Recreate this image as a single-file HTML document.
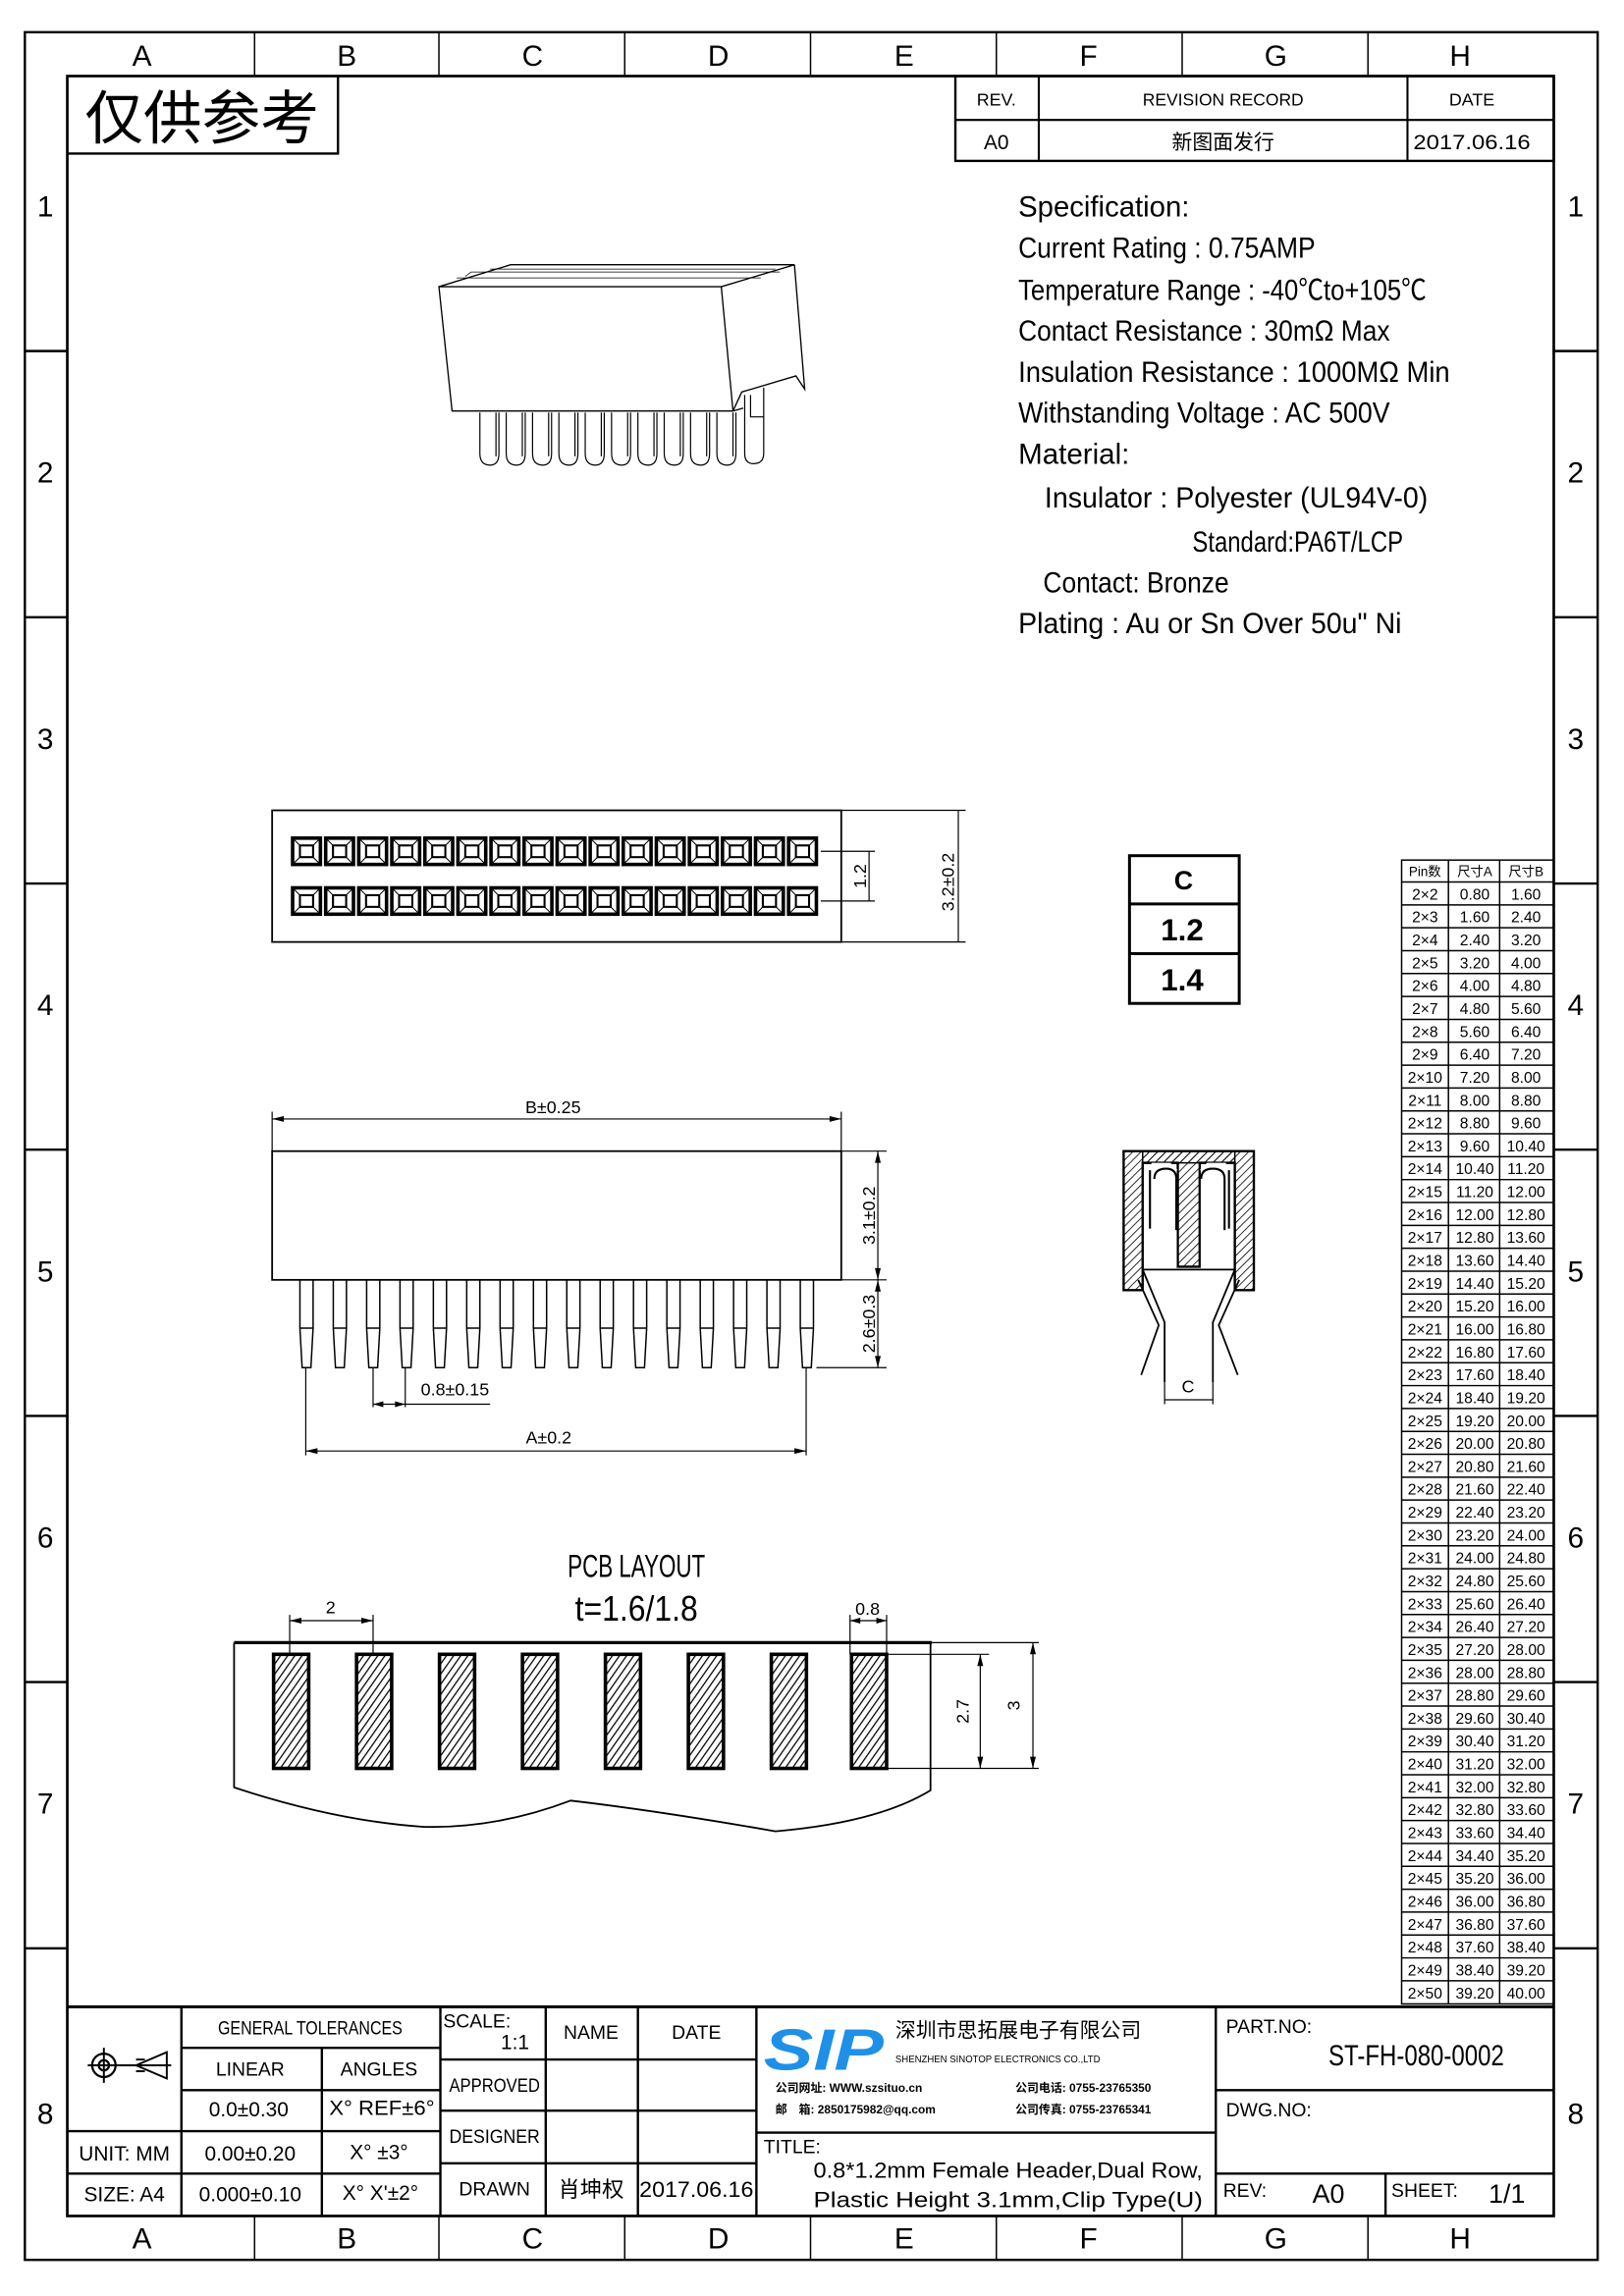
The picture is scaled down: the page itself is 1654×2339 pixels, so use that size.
<!DOCTYPE html>
<html><head><meta charset="utf-8"><style>
html,body{margin:0;padding:0;background:#fff}
svg{display:block}
text{font-family:"Liberation Sans Narrow","Liberation Sans","Noto Sans CJK SC",sans-serif;fill:#000}
.cj{font-family:"Liberation Sans","Noto Sans CJK SC",sans-serif}
</style></head><body>
<svg width="1654" height="2339" viewBox="0 0 1110 1569.7" preserveAspectRatio="none" xmlns="http://www.w3.org/2000/svg">
<defs>
<pattern id="h" width="4" height="4" patternUnits="userSpaceOnUse" patternTransform="rotate(35)"><line x1="0" y1="0" x2="0" y2="4" stroke="#000" stroke-width="1.7"/></pattern>
<pattern id="h2" width="4" height="4" patternUnits="userSpaceOnUse" patternTransform="rotate(45)"><line x1="0" y1="0" x2="0" y2="4" stroke="#000" stroke-width="1.1"/></pattern>
<g id="pad"><rect x="0" y="0" width="19" height="18" fill="none" stroke="#000" stroke-width="2.4"/><rect x="5" y="5" width="9" height="8" fill="none" stroke="#000" stroke-width="1.4"/><path d="M0 0L5 5M19 0L14 5M0 18L5 13M19 18L14 13" stroke="#000" stroke-width=".7"/></g>
<g id="pin" fill="none" stroke="#000" stroke-width="1"><path d="M0 0V33L1.5 60H7.5L9 33V0M0 33H9"/></g>
<g id="pcbpad"><rect x="0" y="0" width="24" height="78" fill="url(#h)" stroke="#000" stroke-width="2.4"/></g>
<g id="p3" fill="none" stroke="#000" stroke-width=".8"><path d="M0 0V28Q0 36 7 36Q13 36 13 28V0M11 0V30"/></g>
</defs>
<g fill="none" stroke="#000">
<rect x="17" y="22" width="1075" height="1523" stroke-width="1.6"/>
<rect x="46" y="52" width="1016" height="1463" stroke-width="1.8"/>
<path stroke-width="1" d="M174 22V52M300 22V52M427 22V52M554 22V52M681 22V52M808 22V52M935 22V52M174 1515V1545M300 1515V1545M427 1515V1545M554 1515V1545M681 1515V1545M808 1515V1545M935 1515V1545"/>
<path stroke-width="1.6" d="M17 240H46M17 422H46M17 604H46M17 786H46M17 968H46M17 1150H46M17 1332H46M1062 240H1092M1062 422H1092M1062 604H1092M1062 786H1092M1062 968H1092M1062 1150H1092M1062 1332H1092"/>
<path stroke-width="1.6" d="M46 105H231V52"/>
<rect x="653" y="52" width="409" height="58" stroke-width="1.6"/>
<path stroke-width="1.4" d="M653 82H1062M710 52V110M962 52V110"/>
<path stroke-width=".9" d="M300 196L309 281H501L493 196ZM300 196L349 181H543L493 196M543 181L550 266L544 257L507 268L501 281M501 281L508 279"/>
<path stroke-width=".5" d="M312 190H520M325 186H533M318 189l4-3h200M335 184h195"/>
<use href="#p3" x="328" y="282"/><use href="#p3" x="346" y="282"/><use href="#p3" x="364" y="282"/><use href="#p3" x="382" y="282"/><use href="#p3" x="400" y="282"/><use href="#p3" x="418" y="282"/><use href="#p3" x="436" y="282"/><use href="#p3" x="454" y="282"/><use href="#p3" x="472" y="282"/><use href="#p3" x="490" y="282"/>
<path stroke-width=".8" d="M509 270V310Q509 317 515 317Q522 317 522 310V265M513 270V285H522"/>
<rect x="186" y="554" width="389" height="90" stroke-width="1.2"/>
<path stroke-width=".8" d="M561 582H598M561 616H598M594 582V616M575 554H660M575 644H660M655 554V644"/>
</g>
<g>
<use href="#pad" x="200" y="573"/><use href="#pad" x="222.6" y="573"/><use href="#pad" x="245.2" y="573"/><use href="#pad" x="267.8" y="573"/><use href="#pad" x="290.4" y="573"/><use href="#pad" x="313" y="573"/><use href="#pad" x="335.6" y="573"/><use href="#pad" x="358.2" y="573"/><use href="#pad" x="380.8" y="573"/><use href="#pad" x="403.4" y="573"/><use href="#pad" x="426" y="573"/><use href="#pad" x="448.6" y="573"/><use href="#pad" x="471.2" y="573"/><use href="#pad" x="493.8" y="573"/><use href="#pad" x="516.4" y="573"/><use href="#pad" x="539" y="573"/>
<use href="#pad" x="200" y="607"/><use href="#pad" x="222.6" y="607"/><use href="#pad" x="245.2" y="607"/><use href="#pad" x="267.8" y="607"/><use href="#pad" x="290.4" y="607"/><use href="#pad" x="313" y="607"/><use href="#pad" x="335.6" y="607"/><use href="#pad" x="358.2" y="607"/><use href="#pad" x="380.8" y="607"/><use href="#pad" x="403.4" y="607"/><use href="#pad" x="426" y="607"/><use href="#pad" x="448.6" y="607"/><use href="#pad" x="471.2" y="607"/><use href="#pad" x="493.8" y="607"/><use href="#pad" x="516.4" y="607"/><use href="#pad" x="539" y="607"/>
</g>
<text transform="translate(592,599) rotate(-90)" font-size="12" text-anchor="middle">1.2</text>
<text transform="translate(652,603) rotate(-90)" font-size="12" text-anchor="middle">3.2±0.2</text>
<g fill="none" stroke="#000">
<rect x="186" y="787" width="389" height="88" stroke-width="1.2"/>
<path stroke-width=".8" d="M186 760V787M575 760V787M186 765H575M575 787H606M575 875H606M600 787V935M558 935H606M209 935V995M551 935V995M209 992H551M255 935V962M277 935V962M255 960H335"/>
<path fill="#000" stroke="none" d="M186 765l8-2v4zM575 765l-8-2v4zM600 787l-2 8h4zM600 875l-2-8h4zM600 875l-2 8h4zM600 935l-2-8h4zM209 992l8-2v4zM551 992l-8-2v4zM255 960l7-2v4zM277 960l-7-2v4z"/>
</g>
<g>
<use href="#pin" x="205" y="875"/><use href="#pin" x="227.8" y="875"/><use href="#pin" x="250.6" y="875"/><use href="#pin" x="273.4" y="875"/><use href="#pin" x="296.2" y="875"/><use href="#pin" x="319" y="875"/><use href="#pin" x="341.8" y="875"/><use href="#pin" x="364.6" y="875"/><use href="#pin" x="387.4" y="875"/><use href="#pin" x="410.2" y="875"/><use href="#pin" x="433" y="875"/><use href="#pin" x="455.8" y="875"/><use href="#pin" x="478.6" y="875"/><use href="#pin" x="501.4" y="875"/><use href="#pin" x="524.2" y="875"/><use href="#pin" x="547" y="875"/>
</g>
<text x="378" y="761" font-size="12" text-anchor="middle">B±0.25</text>
<text transform="translate(598,831) rotate(-90)" font-size="12" text-anchor="middle">3.1±0.2</text>
<text transform="translate(598,905) rotate(-90)" font-size="12" text-anchor="middle">2.6±0.3</text>
<text x="311" y="954" font-size="12" text-anchor="middle">0.8±0.15</text>
<text x="375" y="987" font-size="12" text-anchor="middle">A±0.2</text>
<g fill="none" stroke="#000" stroke-width="2"><rect x="772" y="585" width="75" height="101"/><path d="M772 618H847M772 652H847"/></g>
<text x="809" y="608" font-size="18" text-anchor="middle" font-family="Liberation Sans" font-weight="bold">C</text>
<text x="808" y="643" font-size="21" text-anchor="middle" font-family="Liberation Sans" font-weight="bold">1.2</text>
<text x="808" y="677" font-size="21" text-anchor="middle" font-family="Liberation Sans" font-weight="bold">1.4</text>
<g stroke="#000">
<path fill="url(#h2)" stroke-width="1.6" d="M768 787H857V882H844V795H820V866H805V795H781V882H768Z"/>
<path fill="url(#h2)" stroke-width="1" d="M781 787H844V795H781Z"/>
<path fill="#fff" stroke-width="1" d="M787 795H800L805 800V866H787ZM820 800L825 795H838V866H820Z" stroke="none"/>
<path fill="none" stroke-width="1.4" d="M786 800V840M789 806Q789 799 797 799Q804 799 804 806V841M821 806Q821 799 829 799Q837 799 837 806V841M840 800V840M805 800V866M820 800V866"/>
<path fill="none" stroke-width="1.2" d="M781 868H844M781 868L796 904V945M844 868L829 904V945M778 875L792 906L780 940M847 875L833 906L846 940"/>
<path fill="none" stroke-width=".8" d="M796 945V960M829 945V960M796 957H829"/>
</g>
<text x="812" y="952" font-size="12" text-anchor="middle">C</text>
<g fill="none" stroke="#000" stroke-width="1">
<rect x="958" y="588" width="104" height="782"/>
<path d="M990 588V1370M1025 588V1370"/>
<path d="M958 603H1062M958 618.65H1062M958 634.3H1062M958 649.95H1062M958 665.6H1062M958 681.25H1062M958 696.9H1062M958 712.55H1062M958 728.2H1062M958 743.85H1062M958 759.5H1062M958 775.15H1062M958 790.8H1062M958 806.45H1062M958 822.1H1062M958 837.75H1062M958 853.4H1062M958 869.05H1062M958 884.7H1062M958 900.35H1062M958 916H1062M958 931.65H1062M958 947.3H1062M958 962.95H1062M958 978.6H1062M958 994.25H1062M958 1009.9H1062M958 1025.55H1062M958 1041.2H1062M958 1056.85H1062M958 1072.5H1062M958 1088.15H1062M958 1103.8H1062M958 1119.45H1062M958 1135.1H1062M958 1150.75H1062M958 1166.4H1062M958 1182.05H1062M958 1197.7H1062M958 1213.35H1062M958 1229H1062M958 1244.65H1062M958 1260.3H1062M958 1275.95H1062M958 1291.6H1062M958 1307.25H1062M958 1322.9H1062M958 1338.55H1062M958 1354.2H1062"/>
</g>
<g font-size="10.5" text-anchor="middle">
<text x="974" y="599" font-size="9" class="cj">Pin数</text><text x="1008" y="599" font-size="9" class="cj">尺寸A</text><text x="1043" y="599" font-size="9" class="cj">尺寸B</text>
<g><text x="974" y="615">2×2</text><text x="1008" y="615">0.80</text><text x="1043" y="615">1.60</text></g>
<g transform="translate(0,15.65)"><text x="974" y="615">2×3</text><text x="1008" y="615">1.60</text><text x="1043" y="615">2.40</text></g>
<g transform="translate(0,31.3)"><text x="974" y="615">2×4</text><text x="1008" y="615">2.40</text><text x="1043" y="615">3.20</text></g>
<g transform="translate(0,46.95)"><text x="974" y="615">2×5</text><text x="1008" y="615">3.20</text><text x="1043" y="615">4.00</text></g>
<g transform="translate(0,62.6)"><text x="974" y="615">2×6</text><text x="1008" y="615">4.00</text><text x="1043" y="615">4.80</text></g>
<g transform="translate(0,78.25)"><text x="974" y="615">2×7</text><text x="1008" y="615">4.80</text><text x="1043" y="615">5.60</text></g>
<g transform="translate(0,93.9)"><text x="974" y="615">2×8</text><text x="1008" y="615">5.60</text><text x="1043" y="615">6.40</text></g>
<g transform="translate(0,109.55)"><text x="974" y="615">2×9</text><text x="1008" y="615">6.40</text><text x="1043" y="615">7.20</text></g>
<g transform="translate(0,125.2)"><text x="974" y="615">2×10</text><text x="1008" y="615">7.20</text><text x="1043" y="615">8.00</text></g>
<g transform="translate(0,140.85)"><text x="974" y="615">2×11</text><text x="1008" y="615">8.00</text><text x="1043" y="615">8.80</text></g>
<g transform="translate(0,156.5)"><text x="974" y="615">2×12</text><text x="1008" y="615">8.80</text><text x="1043" y="615">9.60</text></g>
<g transform="translate(0,172.15)"><text x="974" y="615">2×13</text><text x="1008" y="615">9.60</text><text x="1043" y="615">10.40</text></g>
<g transform="translate(0,187.8)"><text x="974" y="615">2×14</text><text x="1008" y="615">10.40</text><text x="1043" y="615">11.20</text></g>
<g transform="translate(0,203.45)"><text x="974" y="615">2×15</text><text x="1008" y="615">11.20</text><text x="1043" y="615">12.00</text></g>
<g transform="translate(0,219.1)"><text x="974" y="615">2×16</text><text x="1008" y="615">12.00</text><text x="1043" y="615">12.80</text></g>
<g transform="translate(0,234.75)"><text x="974" y="615">2×17</text><text x="1008" y="615">12.80</text><text x="1043" y="615">13.60</text></g>
<g transform="translate(0,250.4)"><text x="974" y="615">2×18</text><text x="1008" y="615">13.60</text><text x="1043" y="615">14.40</text></g>
<g transform="translate(0,266.05)"><text x="974" y="615">2×19</text><text x="1008" y="615">14.40</text><text x="1043" y="615">15.20</text></g>
<g transform="translate(0,281.7)"><text x="974" y="615">2×20</text><text x="1008" y="615">15.20</text><text x="1043" y="615">16.00</text></g>
<g transform="translate(0,297.35)"><text x="974" y="615">2×21</text><text x="1008" y="615">16.00</text><text x="1043" y="615">16.80</text></g>
<g transform="translate(0,313)"><text x="974" y="615">2×22</text><text x="1008" y="615">16.80</text><text x="1043" y="615">17.60</text></g>
<g transform="translate(0,328.65)"><text x="974" y="615">2×23</text><text x="1008" y="615">17.60</text><text x="1043" y="615">18.40</text></g>
<g transform="translate(0,344.3)"><text x="974" y="615">2×24</text><text x="1008" y="615">18.40</text><text x="1043" y="615">19.20</text></g>
<g transform="translate(0,359.95)"><text x="974" y="615">2×25</text><text x="1008" y="615">19.20</text><text x="1043" y="615">20.00</text></g>
<g transform="translate(0,375.6)"><text x="974" y="615">2×26</text><text x="1008" y="615">20.00</text><text x="1043" y="615">20.80</text></g>
<g transform="translate(0,391.25)"><text x="974" y="615">2×27</text><text x="1008" y="615">20.80</text><text x="1043" y="615">21.60</text></g>
<g transform="translate(0,406.9)"><text x="974" y="615">2×28</text><text x="1008" y="615">21.60</text><text x="1043" y="615">22.40</text></g>
<g transform="translate(0,422.55)"><text x="974" y="615">2×29</text><text x="1008" y="615">22.40</text><text x="1043" y="615">23.20</text></g>
<g transform="translate(0,438.2)"><text x="974" y="615">2×30</text><text x="1008" y="615">23.20</text><text x="1043" y="615">24.00</text></g>
<g transform="translate(0,453.85)"><text x="974" y="615">2×31</text><text x="1008" y="615">24.00</text><text x="1043" y="615">24.80</text></g>
<g transform="translate(0,469.5)"><text x="974" y="615">2×32</text><text x="1008" y="615">24.80</text><text x="1043" y="615">25.60</text></g>
<g transform="translate(0,485.15)"><text x="974" y="615">2×33</text><text x="1008" y="615">25.60</text><text x="1043" y="615">26.40</text></g>
<g transform="translate(0,500.8)"><text x="974" y="615">2×34</text><text x="1008" y="615">26.40</text><text x="1043" y="615">27.20</text></g>
<g transform="translate(0,516.45)"><text x="974" y="615">2×35</text><text x="1008" y="615">27.20</text><text x="1043" y="615">28.00</text></g>
<g transform="translate(0,532.1)"><text x="974" y="615">2×36</text><text x="1008" y="615">28.00</text><text x="1043" y="615">28.80</text></g>
<g transform="translate(0,547.75)"><text x="974" y="615">2×37</text><text x="1008" y="615">28.80</text><text x="1043" y="615">29.60</text></g>
<g transform="translate(0,563.4)"><text x="974" y="615">2×38</text><text x="1008" y="615">29.60</text><text x="1043" y="615">30.40</text></g>
<g transform="translate(0,579.05)"><text x="974" y="615">2×39</text><text x="1008" y="615">30.40</text><text x="1043" y="615">31.20</text></g>
<g transform="translate(0,594.7)"><text x="974" y="615">2×40</text><text x="1008" y="615">31.20</text><text x="1043" y="615">32.00</text></g>
<g transform="translate(0,610.35)"><text x="974" y="615">2×41</text><text x="1008" y="615">32.00</text><text x="1043" y="615">32.80</text></g>
<g transform="translate(0,626)"><text x="974" y="615">2×42</text><text x="1008" y="615">32.80</text><text x="1043" y="615">33.60</text></g>
<g transform="translate(0,641.65)"><text x="974" y="615">2×43</text><text x="1008" y="615">33.60</text><text x="1043" y="615">34.40</text></g>
<g transform="translate(0,657.3)"><text x="974" y="615">2×44</text><text x="1008" y="615">34.40</text><text x="1043" y="615">35.20</text></g>
<g transform="translate(0,672.95)"><text x="974" y="615">2×45</text><text x="1008" y="615">35.20</text><text x="1043" y="615">36.00</text></g>
<g transform="translate(0,688.6)"><text x="974" y="615">2×46</text><text x="1008" y="615">36.00</text><text x="1043" y="615">36.80</text></g>
<g transform="translate(0,704.25)"><text x="974" y="615">2×47</text><text x="1008" y="615">36.80</text><text x="1043" y="615">37.60</text></g>
<g transform="translate(0,719.9)"><text x="974" y="615">2×48</text><text x="1008" y="615">37.60</text><text x="1043" y="615">38.40</text></g>
<g transform="translate(0,735.55)"><text x="974" y="615">2×49</text><text x="1008" y="615">38.40</text><text x="1043" y="615">39.20</text></g>
<g transform="translate(0,751.2)"><text x="974" y="615">2×50</text><text x="1008" y="615">39.20</text><text x="1043" y="615">40.00</text></g>
</g>
<text x="435" y="1078" font-size="22" text-anchor="middle" textLength="94" lengthAdjust="spacingAndGlyphs">PCB LAYOUT</text>
<text x="435" y="1108" font-size="24" text-anchor="middle" textLength="84" lengthAdjust="spacingAndGlyphs">t=1.6/1.8</text>
<g fill="none" stroke="#000">
<path stroke-width="2.2" d="M160 1123H637"/>
<path stroke-width="1.2" d="M160 1123V1222Q230 1245 290 1249Q340 1250 390 1231Q450 1238 530 1252Q600 1246 636 1224V1123"/>
<path stroke-width=".8" d="M198 1104V1131M255 1104V1131M198 1108H255M581 1104V1131M606 1104V1131M581 1108H606M606 1131H676M606 1209H710M637 1123H710M670 1131V1209M706 1123V1209"/>
<path fill="#000" stroke="none" d="M198 1108l8-2v4zM255 1108l-8-2v4zM581 1108l7-2v4zM606 1108l-7-2v4zM670 1131l-2 8h4zM670 1209l-2-8h4zM706 1123l-2 8h4zM706 1209l-2-8h4z"/>
</g>
<use href="#pcbpad" x="187" y="1131"/><use href="#pcbpad" x="243.7" y="1131"/><use href="#pcbpad" x="300.4" y="1131"/><use href="#pcbpad" x="357.1" y="1131"/><use href="#pcbpad" x="413.8" y="1131"/><use href="#pcbpad" x="470.5" y="1131"/><use href="#pcbpad" x="527.2" y="1131"/><use href="#pcbpad" x="582" y="1131"/>
<text x="226" y="1103" font-size="12" text-anchor="middle">2</text>
<text x="593" y="1104" font-size="12" text-anchor="middle">0.8</text>
<text transform="translate(662,1170) rotate(-90)" font-size="12" text-anchor="middle">2.7</text>
<text transform="translate(697,1166) rotate(-90)" font-size="12" text-anchor="middle">3</text>
<g fill="none" stroke="#000">
<path stroke-width="2" d="M46 1372H1062"/>
<path stroke-width="1.6" d="M124 1372V1515M220 1400V1515M301 1372V1515M373 1372V1515M436 1372V1515M517 1372V1515M831 1372V1515M947 1486V1515"/>
<path stroke-width="1.6" d="M124 1400H301M124 1429H301M46 1457H301M46 1486H301M301 1408H517M301 1443H517M301 1479H517M517 1458H831M831 1429H1062M831 1486H1062"/>
<circle cx="71" cy="1412" r="8" stroke-width="1.5"/><circle cx="71" cy="1412" r="3.5" stroke-width="1.5"/>
<path stroke-width="1.3" d="M60 1412H117M71 1400V1424M93 1412L114 1403V1421ZM93 1408H99M93 1416H99"/>
</g>
<g font-size="20" text-anchor="middle">
<text x="97" y="45">A</text><text x="237" y="45">B</text><text x="364" y="45">C</text><text x="491" y="45">D</text><text x="618" y="45">E</text><text x="744" y="45">F</text><text x="872" y="45">G</text><text x="998" y="45">H</text>
<text x="97" y="1537">A</text><text x="237" y="1537">B</text><text x="364" y="1537">C</text><text x="491" y="1537">D</text><text x="618" y="1537">E</text><text x="744" y="1537">F</text><text x="872" y="1537">G</text><text x="998" y="1537">H</text>
<text x="31" y="148">1</text><text x="31" y="330">2</text><text x="31" y="512">3</text><text x="31" y="694">4</text><text x="31" y="876">5</text><text x="31" y="1058">6</text><text x="31" y="1240">7</text><text x="31" y="1452">8</text>
<text x="1077" y="148">1</text><text x="1077" y="330">2</text><text x="1077" y="512">3</text><text x="1077" y="694">4</text><text x="1077" y="876">5</text><text x="1077" y="1058">6</text><text x="1077" y="1240">7</text><text x="1077" y="1452">8</text>
</g>
<text x="138" y="95" font-size="40" text-anchor="middle" class="cj">仅供参考</text>
<g font-size="12" text-anchor="middle">
<text x="681" y="72">REV.</text><text x="836" y="72" textLength="110" lengthAdjust="spacingAndGlyphs">REVISION RECORD</text><text x="1006" y="72">DATE</text>
<text x="681" y="102" font-size="14">A0</text><text x="836" y="102" font-size="14" class="cj">新图面发行</text><text x="1006" y="102" font-size="14" textLength="80" lengthAdjust="spacingAndGlyphs">2017.06.16</text>
</g>
<g font-size="20">
<text x="696" y="148" textLength="117" lengthAdjust="spacingAndGlyphs">Specification:</text>
<text x="696" y="176" textLength="203" lengthAdjust="spacingAndGlyphs">Current Rating : 0.75AMP</text>
<text x="696" y="205" textLength="279" lengthAdjust="spacingAndGlyphs">Temperature Range : -40℃to+105℃</text>
<text x="696" y="233" textLength="254" lengthAdjust="spacingAndGlyphs">Contact Resistance : 30mΩ Max</text>
<text x="696" y="261" textLength="295" lengthAdjust="spacingAndGlyphs">Insulation Resistance : 1000MΩ Min</text>
<text x="696" y="289" textLength="254" lengthAdjust="spacingAndGlyphs">Withstanding Voltage : AC 500V</text>
<text x="696" y="317" textLength="76" lengthAdjust="spacingAndGlyphs">Material:</text>
<text x="714" y="347" textLength="262" lengthAdjust="spacingAndGlyphs">Insulator : Polyester (UL94V-0)</text>
<text x="815" y="377" textLength="144" lengthAdjust="spacingAndGlyphs">Standard:PA6T/LCP</text>
<text x="713" y="405" textLength="127" lengthAdjust="spacingAndGlyphs">Contact: Bronze</text>
<text x="696" y="433" textLength="262" lengthAdjust="spacingAndGlyphs">Plating : Au or Sn Over 50u" Ni</text>
</g>
<g font-size="13" text-anchor="middle">
<text x="212" y="1391" textLength="126" lengthAdjust="spacingAndGlyphs">GENERAL TOLERANCES</text>
<text x="171" y="1419">LINEAR</text><text x="259" y="1419">ANGLES</text>
<text x="170" y="1447" font-size="14">0.0±0.30</text><text x="261" y="1446" font-size="14" textLength="72" lengthAdjust="spacingAndGlyphs">X° REF±6°</text>
<text x="85" y="1477" font-size="14">UNIT: MM</text><text x="171" y="1477" font-size="14">0.00±0.20</text><text x="259" y="1476" font-size="14">X° ±3°</text>
<text x="85" y="1505" font-size="14">SIZE: A4</text><text x="171" y="1505" font-size="14">0.000±0.10</text><text x="260" y="1504" font-size="14">X° X'±2°</text>
<text x="326" y="1386" font-size="13">SCALE:</text><text x="352" y="1401" font-size="14">1:1</text>
<text x="404" y="1394">NAME</text><text x="476" y="1394">DATE</text>
<text x="338" y="1430" textLength="62" lengthAdjust="spacingAndGlyphs">APPROVED</text><text x="338" y="1465" textLength="62" lengthAdjust="spacingAndGlyphs">DESIGNER</text><text x="338" y="1501">DRAWN</text>
<text x="404" y="1502" font-size="15" class="cj">肖坤权</text><text x="476" y="1502" font-size="15" textLength="78" lengthAdjust="spacingAndGlyphs">2017.06.16</text>
</g>
<text x="522" y="1415" font-size="40" font-weight="bold" font-style="italic" font-family="Liberation Sans" style="fill:#1e90e8" textLength="82" lengthAdjust="spacingAndGlyphs">SIP</text>
<text x="612" y="1393" font-size="14" class="cj">深圳市思拓展电子有限公司</text>
<text x="612" y="1410" font-size="7" textLength="140" lengthAdjust="spacingAndGlyphs">SHENZHEN SINOTOP ELECTRONICS CO.,LTD</text>
<g font-size="8" font-weight="bold">
<text x="530" y="1430" class="cj">公司网址: WWW.szsituo.cn</text>
<text x="530" y="1445" class="cj">邮　箱: 2850175982@qq.com</text>
<text x="694" y="1430" class="cj">公司电话: 0755-23765350</text>
<text x="694" y="1445" class="cj">公司传真: 0755-23765341</text>
</g>
<text x="522" y="1472" font-size="13">TITLE:</text>
<text x="556" y="1489" font-size="15" font-family="Liberation Mono" textLength="266" lengthAdjust="spacingAndGlyphs">0.8*1.2mm Female Header,Dual Row,</text>
<text x="556" y="1509" font-size="15" font-family="Liberation Mono" textLength="266" lengthAdjust="spacingAndGlyphs">Plastic Height 3.1mm,Clip Type(U)</text>
<text x="838" y="1390" font-size="13">PART.NO:</text>
<text x="968" y="1412" font-size="20" text-anchor="middle" textLength="120" lengthAdjust="spacingAndGlyphs">ST-FH-080-0002</text>
<text x="838" y="1447" font-size="13">DWG.NO:</text>
<text x="836" y="1502" font-size="13">REV:</text><text x="908" y="1506" font-size="18" text-anchor="middle">A0</text>
<text x="951" y="1502" font-size="13">SHEET:</text><text x="1030" y="1506" font-size="18" text-anchor="middle">1/1</text>
</svg>
</body></html>
